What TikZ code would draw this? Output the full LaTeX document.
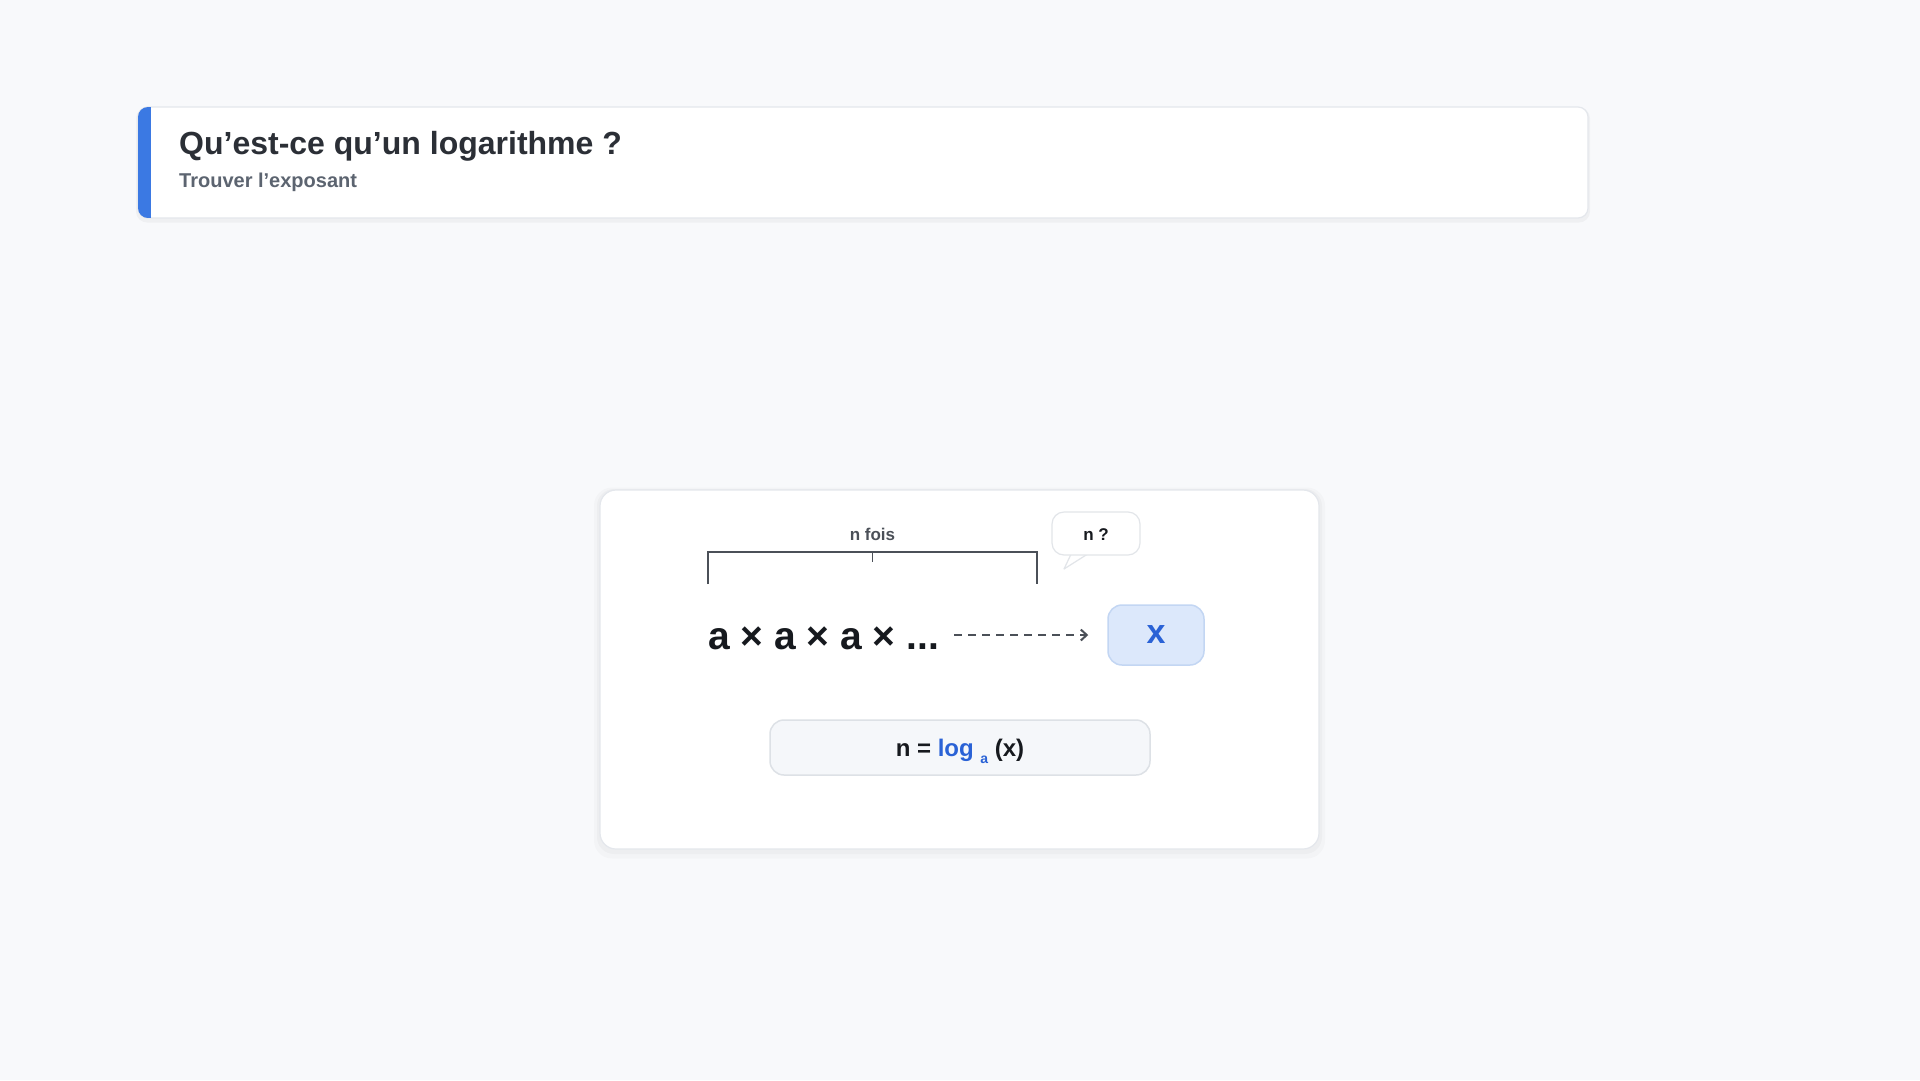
\documentclass[tikz,border=0pt]{standalone}
\usepackage{fontspec}
\setmainfont{Liberation Sans}
\usetikzlibrary{arrows.meta}
\definecolor{bg}{HTML}{F8F9FB}
\definecolor{cardborder}{HTML}{E4E7EC}
\definecolor{titletext}{HTML}{2B2F36}
\definecolor{subtext}{HTML}{5C6470}
\definecolor{accent}{HTML}{3B79E3}
\definecolor{ink}{HTML}{16191E}
\definecolor{linegray}{HTML}{4B5058}
\definecolor{xfill}{HTML}{DCE8FB}
\definecolor{xborder}{HTML}{C3D6F3}
\definecolor{xtext}{HTML}{2A62D6}
\definecolor{ffill}{HTML}{F5F7FA}
\definecolor{fborder}{HTML}{DDE1E6}
\definecolor{bubbleborder}{HTML}{E2E5E9}
\tikzset{
  card/.style={rectangle, fill=white, draw=cardborder, line width=1.2pt, rounded corners=#1, inner sep=0pt},
  shadowbox/.style={rectangle, fill=black, opacity=#1, draw=none, inner sep=0pt},
  bracketline/.style={draw=linegray, line width=2pt},
  dasharrow/.style={draw=linegray, line width=2pt, dash pattern=on 8pt off 6pt, -{Straight Barb[length=6pt,width=11pt,line width=2pt]}},
}
\begin{document}
\begin{tikzpicture}[x=1pt,y=-1pt]
\fill[bg] (0,0) rectangle (1920,1080);
\useasboundingbox (0,0) rectangle (1920,1080);

% title card
\node[shadowbox=0.035, rounded corners=11pt, minimum width=1454pt, minimum height=115pt] at (863,165) {};
\node (titlecard) [card=10pt, minimum width=1450pt, minimum height=111pt] at (863,162.5) {};
\begin{scope}
  \clip[rounded corners=10pt] (138,107) rectangle (1588,218);
  \fill[accent] (138,107) rectangle (151,218);
\end{scope}
\node (title) [anchor=base west, inner sep=0pt, font=\bfseries\fontsize{32}{38}\selectfont, text=titletext] at (179,154) {Qu’est-ce qu’un logarithme ?};
\node (subtitle) [anchor=base west, inner sep=0pt, font=\bfseries\fontsize{20}{24}\selectfont, text=subtext] at (179,187) {Trouver l’exposant};

% main card
\node[shadowbox=0.02, rounded corners=18pt, minimum width=731pt, minimum height=371pt] at (959.5,673) {};
\node[shadowbox=0.025, rounded corners=17pt, minimum width=725pt, minimum height=365pt] at (959.5,671.5) {};
\node (maincard) [card=16pt, minimum width=719pt, minimum height=359pt] at (959.5,669.5) {};

% n fois and bracket
\node (nfois) [anchor=base, inner sep=0pt, font=\bfseries\fontsize{17}{20}\selectfont, text=linegray] at (872.5,540) {n fois};
\coordinate (bl) at (708,552);
\coordinate (br) at (1037,552);
\coordinate (bm) at (872.5,552);
\draw[bracketline] (708,584) -- (bl) -- (br) -- (1037,584);
\draw[bracketline, line width=1.4pt] (bm) -- (872.5,562);

% bubble
\draw[draw=bubbleborder, fill=white, line width=1.2pt, line join=round] (1073,550) -- (1064,569) -- (1094,550);
\node (bubble) [rectangle, fill=white, draw=bubbleborder, line width=1.2pt, rounded corners=12pt, minimum width=88pt, minimum height=43pt, inner sep=0pt] at (1096,533.5) {};
\node (nq) [anchor=base, inner sep=0pt, font=\bfseries\fontsize{17}{20}\selectfont, text=ink] at (1096,540) {n ?};

% expression
\node (expr) [anchor=base west, inner sep=0pt, font=\bfseries\fontsize{39}{45}\selectfont, text=ink] at (708,649) {a × a × a × ...};

% x box
\node (xbox) [rectangle, fill=xfill, draw=xborder, line width=1.5pt, rounded corners=14pt, minimum width=96pt, minimum height=60pt, inner sep=0pt, font=\bfseries\fontsize{34}{40}\selectfont, text=xtext] at (1156,635) {x};

\draw[dasharrow] ([xshift=15pt]expr.east |- xbox.west) -- ([xshift=-19pt]xbox.west);

% formula box
\node (fbox) [rectangle, fill=ffill, draw=fborder, line width=1.5pt, rounded corners=14pt, minimum width=380pt, minimum height=55pt, inner sep=0pt] at (960,747.5) {};
\node (formula) [anchor=base, inner sep=0pt, font=\bfseries\fontsize{24}{28}\selectfont, text=ink] at (960,756) {n = {\color{xtext}log {\fontsize{14}{16}\selectfont\raisebox{-7pt}{a}}} (x)};
\end{tikzpicture}
\end{document}
